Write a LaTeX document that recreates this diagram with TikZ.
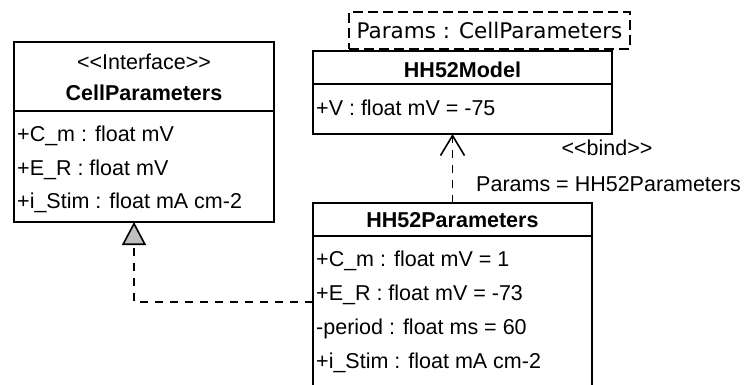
\documentclass[tikz,border=0pt]{standalone}
\usepackage{fontspec}
\setmainfont{Liberation Sans}
\newfontfamily\tplfont{DejaVu Sans}
\usetikzlibrary{arrows.meta}
\begin{document}
\begin{tikzpicture}[x=1pt,y=-1pt,
  classbox/.style={draw, line width=1.6pt, anchor=north west, outer sep=0pt, inner sep=0pt},
  txt/.style={inner sep=0pt, font=\fontsize{21.5}{26}\selectfont},
  attr/.style={txt, anchor=base west},
  ctext/.style={txt, anchor=base},
  title/.style={ctext, font=\fontsize{21.5}{26}\selectfont\bfseries},
  sepline/.style={line width=1.6pt},
  dep/.style={line width=1.6pt, dash pattern=on 8pt off 7pt}]
\useasboundingbox (0,0) rectangle (744,385);
\clip (0,0) rectangle (744,385);

% interface CellParameters
\node[classbox, minimum width=260pt, minimum height=180pt] (cp) at (14,42) {};
\draw[sepline] (14,111) -- (274,111);
\node[ctext] (cpst) at (144,69.5) {{<}{<}Interface{>}{>}};
\node[title] (cpt) at (144,100.5) {CellParameters};
\node[attr] (cpa1) at (17,141.5) {+C\_m : float mV};
\node[attr] (cpa2) at (17,175.5) {+E\_R : float mV};
\node[attr] (cpa3) at (17,208.5) {+i\_Stim : float mA cm-2};

% template class HH52Model
\node[classbox, minimum width=299pt, minimum height=83pt] (hm) at (313,51) {};
\draw[sepline] (313,84) -- (612,84);
\node[title] (hmt) at (462.5,77.5) {HH52Model};
\node[attr] (hma1) at (316,115.5) {+V : float mV = -75};

% template parameter
\node[classbox, minimum width=281pt, minimum height=37pt, fill=white,
      dash pattern=on 10pt off 5pt] (tp) at (349,12) {};
\node[ctext, font=\tplfont\fontsize{21.5}{26}\selectfont] (tpt) at (489.5,38.5) {Params : CellParameters};

% bound class HH52Parameters
\node[classbox, minimum width=279pt, minimum height=200pt] (hp) at (313,203) {};
\draw[sepline] (313,236) -- (592,236);
\node[title] (hpt) at (452.5,227.5) {HH52Parameters};
\node[attr] (hpa1) at (316,266.5) {+C\_m : float mV = 1};
\node[attr] (hpa2) at (316,300.5) {+E\_R : float mV = -73};
\node[attr] (hpa3) at (316,334.5) {-period : float ms = 60};
\node[attr] (hpa4) at (316,368.5) {+i\_Stim : float mA cm-2};

% realization HH52Parameters -> CellParameters
\coordinate (rc) at (134,302);
\draw[dep, -{Triangle[length=23pt, width=24pt, fill=black!25]}]
  (hp.west |- rc) -- (rc) -- (rc |- cp.south);

% bind dependency HH52Parameters -> HH52Model
\draw[dep, -{Straight Barb[length=20pt, width=24pt]}]
  (hp.north) -- (hp.north |- hm.south);
\node[ctext] (bst) at (607,155.5) {{<}{<}bind{>}{>}};
\node[attr] (bpar) at (476,191.5) {Params = HH52Parameters};
\end{tikzpicture}
\end{document}
